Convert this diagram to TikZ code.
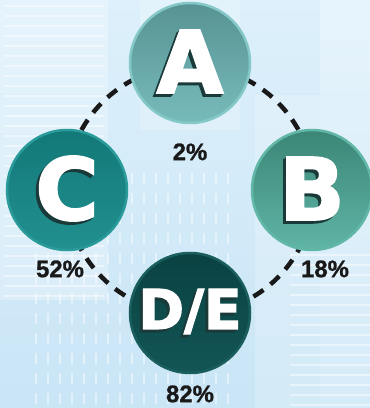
\documentclass[tikz,border=0pt]{standalone}
\usepackage{fontspec}
\setmainfont{Liberation Sans}[BoldFeatures={FakeBold=1}]
\newfontfamily\letterfont{DejaVu Sans}[BoldFeatures={FakeBold=2.5}]
\usetikzlibrary{positioning}

\definecolor{sky}{HTML}{C9E5F6}
\definecolor{skylight}{HTML}{DDF0FB}
\definecolor{aTop}{HTML}{579393}
\definecolor{aBot}{HTML}{78BBBB}
\definecolor{aRim}{HTML}{84C8C8}
\definecolor{bTop}{HTML}{3B8676}
\definecolor{bBot}{HTML}{60B5A6}
\definecolor{bRim}{HTML}{62B8A8}
\definecolor{cTop}{HTML}{137878}
\definecolor{cBot}{HTML}{229090}
\definecolor{cRim}{HTML}{2A9A9A}
\definecolor{dTop}{HTML}{0A4242}
\definecolor{dBot}{HTML}{135555}
\definecolor{dRim}{HTML}{1B5E5E}
\definecolor{embossdark}{HTML}{1A3A3A}

% white letter with a dark extrusion to the lower left
\newcommand{\embossed}[1]{%
  \rlap{\kern-3bp\raisebox{-3bp}{\textcolor{embossdark}{#1}}}%
  \rlap{\kern-1.5bp\raisebox{-1.5bp}{\textcolor{embossdark}{#1}}}%
  \textcolor{white}{#1}}

\tikzset{
  stage/.style={circle, minimum size=120bp, inner sep=0pt, line width=2.5bp,
    font=\letterfont\bfseries\fontsize{86}{86}\selectfont},
  pct/.style={inner sep=0pt, text=black!90, font=\bfseries\fontsize{24}{24}\selectfont},
  ring/.style={line width=4.5bp, black!90, dash pattern=on 12bp off 9bp},
  glass/.style={white, opacity=.45, line width=2.5bp},
}

\begin{document}
\begin{tikzpicture}[x=1bp, y=1bp]
  \useasboundingbox (0,0) rectangle (370,408);

  % sky and faint towers behind
  \shade[bottom color=sky, top color=skylight] (0,0) rectangle (370,408);
  \fill[white, opacity=.25] (0,108) rectangle (108,408);
  \foreach \y in {112,122,...,402} \draw[glass] (4,\y) -- (104,\y);
  \fill[white, opacity=.2] (140,278) rectangle (240,408);
  \fill[white, opacity=.2] (255,0) rectangle (320,313);
  \fill[white, opacity=.25] (320,0) rectangle (370,408);
  \foreach \x in {36,48,...,236}
    \foreach \y in {4,24,...,230} \draw[glass] (\x,\y) -- (\x,\y+11);
  \foreach \y in {3,13,...,153} \draw[glass] (290,\y) -- (370,\y);

  % dashed ring through the four stages
  \coordinate (hub) at (190,218);
  \draw[ring] (hub) circle[radius=124];

  % the four stages
  \node (a) [stage, top color=aTop, bottom color=aBot, draw=aRim] at (190,345) {\embossed{A}};
  \node (b) [stage, top color=bTop, bottom color=bBot, draw=bRim] at (312,218) {\embossed{B}};
  \node (c) [stage, top color=cTop, bottom color=cBot, draw=cRim] at (67,218) {\embossed{C}};
  \node (de) [stage, top color=dTop, bottom color=dBot, draw=dRim,
    font=\letterfont\bfseries\fontsize{55}{55}\selectfont] at (190,95) {\embossed{D/E}};

  % shares
  \node (pa) [pct, below=19bp of a] {2\%};
  \node (pb) [pct, below=9bp of b, xshift=13bp] {18\%};
  \node (pc) [pct, below=9bp of c, xshift=-7bp] {52\%};
  \node (pd) [pct, below=11bp of de] {82\%};
\end{tikzpicture}
\end{document}
